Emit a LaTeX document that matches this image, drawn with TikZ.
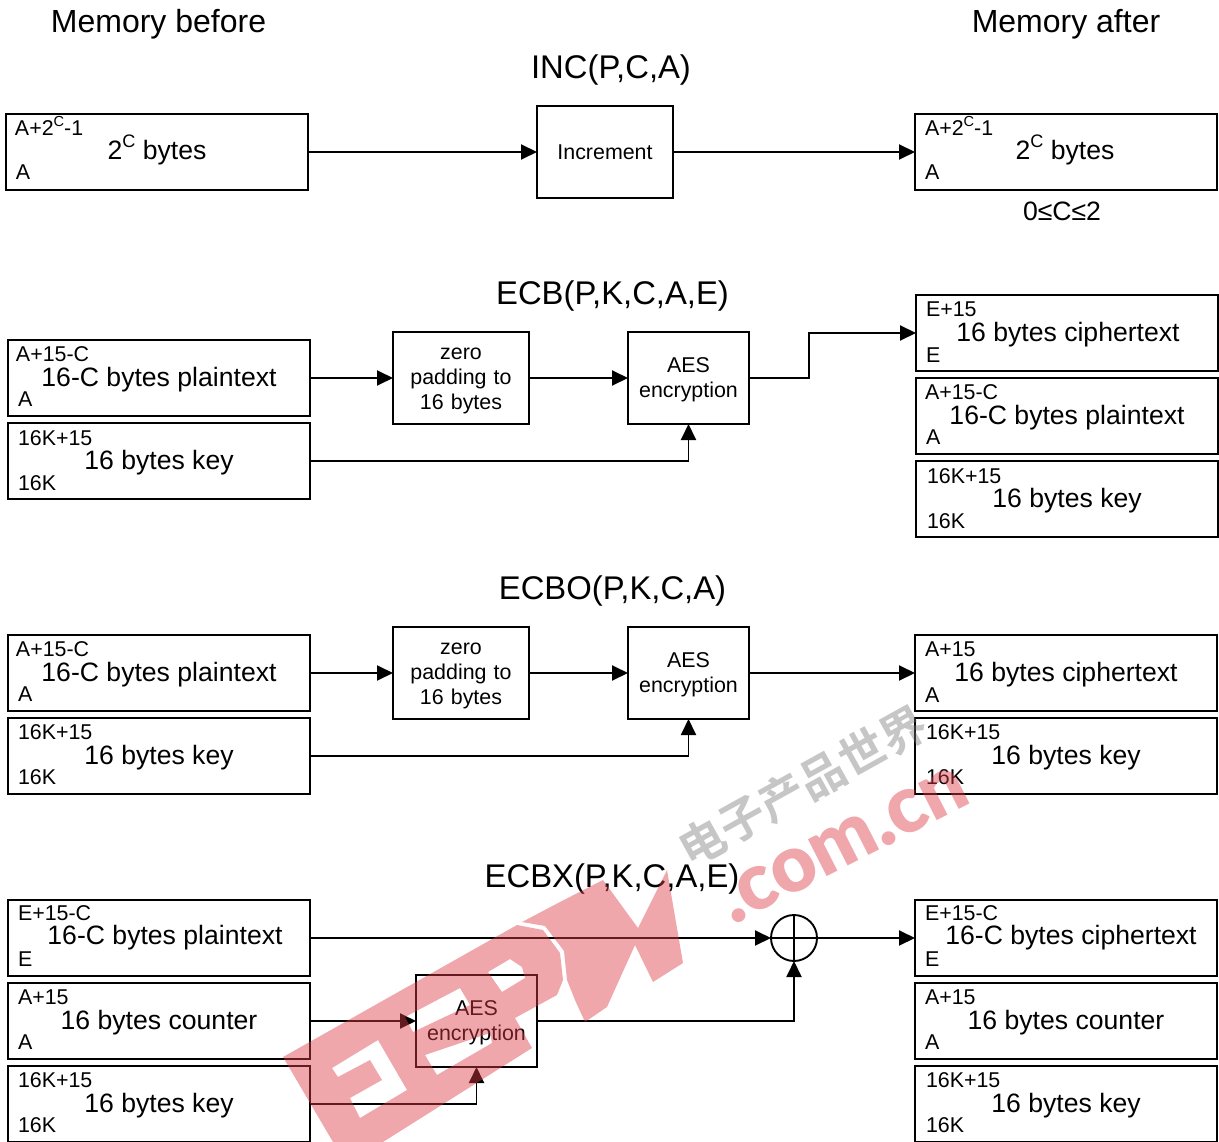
\documentclass[tikz,border=0pt]{standalone}
\usepackage{fontspec}
\setmainfont{Liberation Sans}
\newfontfamily\cjkwm{Noto Sans CJK SC}[BoldFont={* Bold}]
\newfontfamily\wmlat{Lato Black}
\usetikzlibrary{arrows.meta}
\newcommand{\fsz}[1]{\fontsize{#1}{#1}\selectfont}
\newcommand{\sups}[1]{\raisebox{.42em}{\scalebox{.68}{#1}}}
\newcommand{\zerotext}{\rule{0pt}{17pt}zero\\padding to\\16 bytes}
\newcommand{\aestext}{\rule{0pt}{19.3pt}AES\\encryption}
\definecolor{wmred}{RGB}{220,60,70}
\definecolor{wmgrey}{RGB}{120,120,120}
\tikzset{
  x=1pt, y=-1pt,
  every node/.style={inner sep=0pt, outer sep=0pt, text=black},
  wire/.style={line width=1.9pt, -{Triangle[length=16pt,width=15pt]}},
  plainwire/.style={line width=1.9pt},
  membox/.style={draw, line width=1.9pt, minimum width=302pt, minimum height=76pt},
  opbox/.style={draw, line width=1.9pt, minimum height=92pt, align=center, font=\fontsize{21.4}{25}\selectfont, text width=#1, minimum width=#1},
  opbox/.default=121pt,
  heading/.style={font=\fsz{32}, yshift=-3pt},
  title/.style={font=\fsz{32.8}, yshift=-3pt},
  maintext/.style={font=\fsz{26.6}, yshift=-3pt},
  addr/.style={font=\fsz{21.4}, anchor=west},
}
% name, box centre x,y, main text x,y, main text, top x,y, top text, bottom x,y, bottom text
\newcommand{\memb}[9]{%
  \node[membox] (#1) at (#2) {};
  \node[maintext] (#1-m) at (#3) {#4};
  \node[addr] (#1-t) at (#5) {#6};
  \node[addr] (#1-b) at (#7) {#8};
}
\begin{document}
\begin{tikzpicture}
\useasboundingbox (0,0) rectangle (1219,1142);
\clip (0,0) rectangle (1219,1142);

\node[heading] (hbefore) at (158.5,21) {Memory before};
\node[heading] (hafter) at (1066,21) {Memory after};

% INC
\node[title] (tinc) at (611,67) {INC(P,C,A)};
\memb{ia}{157,152}{157,147}{2\sups{C} bytes}{15,126}{A+2\sups{C}-1}{16,172}{A}{}
\node[draw, line width=1.9pt, minimum width=136pt, minimum height=92pt, font=\fsz{21.4}] (inc) at (605,152) {Increment};
\memb{ib}{1066,152}{1065,147}{2\sups{C} bytes}{925,126}{A+2\sups{C}-1}{925,172}{A}{}
\node[font=\fsz{26.6}] (crange) at (1062,211) {0≤C≤2};
\draw[wire] (ia.east) -- (inc.west);
\draw[wire] (inc.east) -- (ib.west);

% ECB
\node[title] (tecb) at (612.5,293) {ECB(P,K,C,A,E)};
\memb{ea}{159,378}{159,377}{16-C bytes plaintext}{16,354}{A+15-C}{18,399}{A}{}
\memb{ek}{159,461}{159,460}{16 bytes key}{18,438}{16K+15}{18,483}{16K}{}
\node[opbox=136pt] (ez) at (461,378) {\zerotext};
\node[opbox] (eaes) at (688.5,378) {\aestext};
\memb{ec}{1067,333}{1068,332}{16 bytes ciphertext}{926,309}{E+15}{926,355}{E}{}
\memb{ep}{1067,416}{1067,415}{16-C bytes plaintext}{925,392}{A+15-C}{926,437}{A}{}
\memb{eq}{1067,499}{1067,498}{16 bytes key}{927,476}{16K+15}{927,521}{16K}{}
\coordinate (ebend) at (809,378);
\draw[wire] (ea.east) -- (ez.west);
\draw[wire] (ez.east) -- (eaes.west);
\draw[wire] (eaes.east) -- (ebend) |- (ec.west);
\draw[wire] (ek.east) -| (eaes.south);

% ECBO
\node[title] (tecbo) at (612.5,588) {ECBO(P,K,C,A)};
\memb{oa}{159,673}{159,672}{16-C bytes plaintext}{16,649}{A+15-C}{18,694}{A}{}
\memb{ok}{159,756}{159,755}{16 bytes key}{18,732}{16K+15}{18,777}{16K}{}
\node[opbox=136pt] (oz) at (461,673) {\zerotext};
\node[opbox] (oaes) at (688.5,673) {\aestext};
\memb{oc}{1066,673}{1066,672}{16 bytes ciphertext}{925,649}{A+15}{925,695}{A}{}
\memb{oq}{1066,756}{1066,755}{16 bytes key}{926,732}{16K+15}{926,777}{16K}{}
\draw[wire] (oa.east) -- (oz.west);
\draw[wire] (oz.east) -- (oaes.west);
\draw[wire] (oaes.east) -- (oc.west);
\draw[wire] (ok.east) -| (oaes.south);

% ECBX
\node[title] (tecbx) at (612,876) {ECBX(P,K,C,A,E)};
\memb{xa}{159,938}{165,935}{16-C bytes plaintext}{18,913}{E+15-C}{18,959}{E}{}
\memb{xb}{159,1021}{159,1020}{16 bytes counter}{18,997}{A+15}{18,1042}{A}{}
\memb{xk}{159,1104}{159,1103}{16 bytes key}{18,1080}{16K+15}{18,1125}{16K}{}
\node[opbox] (xaes) at (476.5,1021) {\aestext};
\node[draw, circle, line width=1.9pt, minimum size=46pt] (xor) at (794,938) {};
\draw[plainwire] (xor.north) -- (xor.south);
\draw[plainwire] (xor.west) -- (xor.east);
\memb{xc}{1066,938}{1071,935}{16-C bytes ciphertext}{925,913}{E+15-C}{925,959}{E}{}
\memb{xd}{1066,1021}{1066,1020}{16 bytes counter}{925,997}{A+15}{925,1042}{A}{}
\memb{xq}{1066,1104}{1066,1103}{16 bytes key}{926,1080}{16K+15}{926,1125}{16K}{}
\draw[wire] (xa.east) -- (xor.west);
\draw[wire] (xb.east) -- (xaes.west);
\draw[wire] (xk.east) -| (xaes.south);
\draw[wire] (xaes.east) -| (xor.south);
\draw[wire] (xor.east) -- (xc.west);

% watermark, drawn as the picture shows it
\fill[wmred, fill opacity=.45, even odd rule]
  (283,1057) -- (517,925) -- (543,930) -- (560,953) -- (563,980) -- (557,995) -- (515,1018) -- (532,1048) -- (383,1142) -- (333,1142) -- cycle
  (332,1068) -- (378,1040) -- (407,1090) -- (360,1118) -- (350,1098) -- (382,1080) -- (370,1060) -- (338,1077) -- cycle
  (405,1017) -- (460,988) -- (470,1005) -- (413,1032) -- cycle
  (425,1055) -- (490,1033) -- (492,1043) -- (437,1075) -- cycle
  (488,972) -- (510,959) -- (522,967) -- (525,978) -- (502,992) -- cycle;
\fill[wmred, fill opacity=.45]
  (560,902) -- (603,880) -- (638,928) -- (667,870) -- (683,963) -- (653,982) -- (635,945) -- (607,1007) -- (585,1022) -- (575,1000) -- (567,980) -- (564,951) -- (545,926) -- (522,922) -- cycle;
\node[anchor=base west, rotate=27, xscale=.98, text=wmred, text opacity=.45, font=\fsz{80}\wmlat] (wmcom) at (733,925) {.com.cn};
\node[anchor=base west, rotate=29, text=wmgrey, text opacity=.42, font=\fsz{46}\cjkwm\bfseries] (wmcn) at (690,868) {电子产品世界};
\end{tikzpicture}
\end{document}
